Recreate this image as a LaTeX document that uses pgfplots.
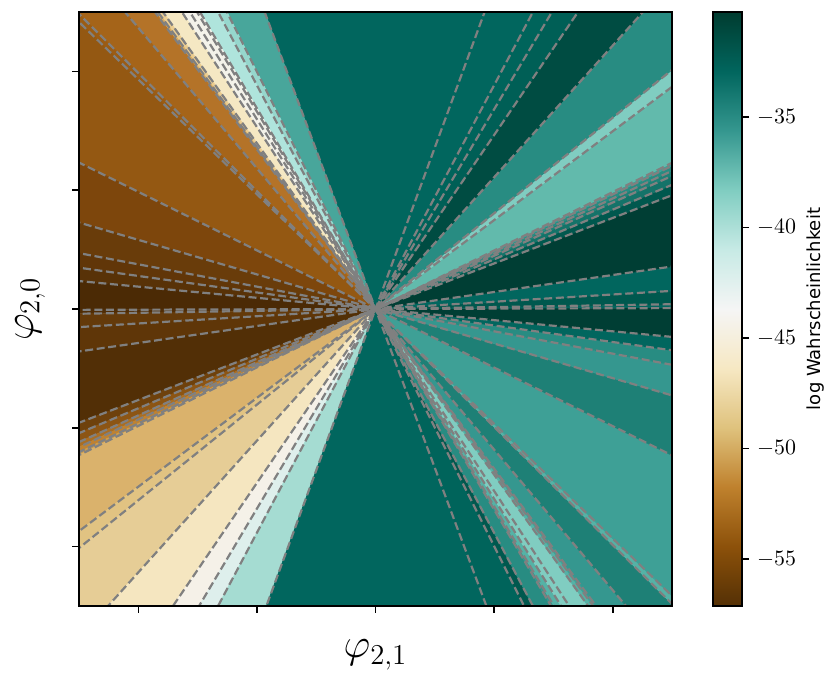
\documentclass[border=0pt]{standalone}
\usepackage{pgfplots}
\pgfplotsset{compat=1.18}
\usepackage{fontspec}
\newfontfamily\dejavu{DejaVu Sans}
% teal shades
\definecolor{T00}{RGB}{1,102,94}
\definecolor{T01}{RGB}{0,100,91}
\definecolor{T02}{RGB}{0,95,86}
\definecolor{T03}{RGB}{0,88,78}
\definecolor{T04}{RGB}{0,80,70}
\definecolor{T05}{RGB}{0,62,52}
\definecolor{T06}{RGB}{30,128,118}
\definecolor{T07}{RGB}{40,140,130}
\definecolor{T08}{RGB}{53,151,143}
\definecolor{T09}{RGB}{62,160,150}
\definecolor{T10}{RGB}{72,166,155}
\definecolor{T11}{RGB}{98,186,172}
\definecolor{T12}{RGB}{128,205,193}
\definecolor{T13}{RGB}{85,178,166}
\definecolor{T14}{RGB}{150,215,205}
\definecolor{T15}{RGB}{175,228,220}
\definecolor{T16}{RGB}{165,220,210}
\definecolor{T17}{RGB}{222,239,236}
\definecolor{T18}{RGB}{20,115,105}
\definecolor{T19}{RGB}{0,76,66}
\definecolor{W0}{RGB}{243,242,234}
\definecolor{W1}{RGB}{245,241,232}
% brown shades
\definecolor{B01}{RGB}{245,232,195}
\definecolor{B02}{RGB}{235,205,145}
\definecolor{B03}{RGB}{215,170,95}
\definecolor{B04}{RGB}{180,115,40}
\definecolor{B05}{RGB}{165,100,25}
\definecolor{B06}{RGB}{155,92,20}
\definecolor{B07}{RGB}{148,88,18}
\definecolor{B08}{RGB}{125,70,12}
\definecolor{B09}{RGB}{105,60,10}
\definecolor{B10}{RGB}{97,54,8}
\definecolor{B11}{RGB}{88,50,7}
\definecolor{B12}{RGB}{75,42,5}
\definecolor{B13}{RGB}{80,45,6}
\definecolor{B14}{RGB}{100,58,10}
\definecolor{B15}{RGB}{95,54,8}
\definecolor{B16}{RGB}{82,47,6}
\definecolor{B17}{RGB}{110,65,12}
\definecolor{B18}{RGB}{140,85,20}
\definecolor{B19}{RGB}{170,110,35}
\definecolor{B20}{RGB}{190,130,50}
\definecolor{B21}{RGB}{205,155,75}
\definecolor{B22}{RGB}{218,178,108}
\definecolor{B23}{RGB}{225,195,130}
\definecolor{B24}{RGB}{230,205,150}
\definecolor{B25}{RGB}{245,230,192}
\definecolor{lgray}{RGB}{128,128,128}
\pgfplotsset{
  sec/.style={fill=#1, draw=#1, line width=0.4pt},
  gl/.style={color=lgray, line width=1.1pt, dash pattern=on 4pt off 1.8pt},
}
\begin{document}
\begin{tikzpicture}
\begin{axis}[
  at={(0pt,0pt)}, anchor=south west,
  scale only axis, width=296.5pt, height=297pt,
  xmin=-2.5, xmax=2.5, ymin=-2.5, ymax=2.5,
  xtick={-2,-1,0,1,2}, ytick={-2,-1,0,1,2},
  xticklabels={}, yticklabels={},
  tick pos=left, tick align=outside, major tick length=3.5pt,
  every tick/.style={black, line width=0.8pt},
  axis line style={line width=0.8pt},
  axis on top,
  xlabel={$\varphi_{2,1}$}, ylabel={$\varphi_{2,0}$},
  xlabel style={at={(axis description cs:0.5,-0.0875)}, anchor=base, font=\fontsize{22}{26}\selectfont},
  ylabel style={at={(axis description cs:-0.0775,0.5)}, anchor=base, inner sep=0pt, font=\fontsize{22}{26}\selectfont},
  colormap={BrBG}{rgb255=(84,48,5) rgb255=(140,81,10) rgb255=(191,129,45) rgb255=(223,194,125) rgb255=(246,232,195) rgb255=(245,245,245) rgb255=(199,234,229) rgb255=(128,205,193) rgb255=(53,151,143) rgb255=(1,102,94) rgb255=(0,60,48)},
  colorbar, point meta min=-57.13, point meta max=-30.24,
  colorbar style={
    at={(parent axis.north east)}, anchor=north west, xshift=12pt,
    scale only axis, width=14.5pt, height=297pt,
    ytick={-55,-50,-45,-40,-35},
    ytick pos=right, yticklabel pos=right, tick align=outside,
    major tick length=3.5pt,
    every tick/.style={black, line width=0.8pt},
    axis line style={line width=0.8pt},
    yticklabel style={font=\fontsize{11}{13}\selectfont, xshift=0.5pt},
    ylabel={\dejavu log Wahrscheinlichkeit},
    ylabel style={at={(axis description cs:3.72,0.5)}, anchor=base, font=\fontsize{9}{11}\selectfont},
  },
]
% ---- upper half sectors ----
\addplot[sec=T00] coordinates {(0,0) (10,0.03) (10,0.16)};
\addplot[sec=T03] coordinates {(0,0) (10,0.16) (10,0.61)};
\addplot[sec=T00] coordinates {(0,0) (10,0.61) (10,1.43)};
\addplot[sec=T05] coordinates {(0,0) (10,1.43) (10,3.83)};
\addplot[sec=T03] coordinates {(0,0) (10,3.83) (10,4.18)};
\addplot[sec=T18] coordinates {(0,0) (10,4.18) (10,4.48)};
\addplot[sec=T06] coordinates {(0,0) (10,4.48) (10,4.65)};
\addplot[sec=T07] coordinates {(0,0) (10,4.65) (10,4.82)};
\addplot[sec=T09] coordinates {(0,0) (10,4.82) (10,4.92)};
\addplot[sec=T11] coordinates {(0,0) (10,4.92) (10,7.48)};
\addplot[sec=T12] coordinates {(0,0) (10,7.48) (10,8.05)};
\addplot[sec=T07] coordinates {(0,0) (10,8.05) (9.02,10)};
\addplot[sec=T19] coordinates {(0,0) (9.02,10) (6.83,10)};
\addplot[sec=T02] coordinates {(0,0) (6.83,10) (5.95,10)};
\addplot[sec=T01] coordinates {(0,0) (5.95,10) (5.31,10)};
\addplot[sec=T00] coordinates {(0,0) (5.31,10) (3.68,10)};
\addplot[sec=T00] coordinates {(0,0) (3.68,10) (-3.74,10)};
\addplot[sec=T10] coordinates {(0,0) (-3.74,10) (-5.01,10)};
\addplot[sec=T14] coordinates {(0,0) (-5.01,10) (-5.31,10)};
\addplot[sec=T15] coordinates {(0,0) (-5.31,10) (-5.92,10)};
\addplot[sec=W0] coordinates {(0,0) (-5.92,10) (-6.02,10)};
\addplot[sec=W0] coordinates {(0,0) (-6.02,10) (-6.26,10)};
\addplot[sec=W0] coordinates {(0,0) (-6.26,10) (-6.53,10)};
\addplot[sec=B01] coordinates {(0,0) (-6.53,10) (-7.17,10)};
\addplot[sec=B02] coordinates {(0,0) (-7.17,10) (-7.34,10)};
\addplot[sec=B03] coordinates {(0,0) (-7.34,10) (-7.44,10)};
\addplot[sec=B04] coordinates {(0,0) (-7.44,10) (-8.45,10)};
\addplot[sec=B05] coordinates {(0,0) (-8.45,10) (-10,9.93)};
\addplot[sec=B06] coordinates {(0,0) (-10,9.93) (-10,9.66)};
\addplot[sec=B07] coordinates {(0,0) (-10,9.66) (-10,4.93)};
\addplot[sec=B08] coordinates {(0,0) (-10,4.93) (-10,2.91)};
\addplot[sec=B09] coordinates {(0,0) (-10,2.91) (-10,1.88)};
\addplot[sec=B10] coordinates {(0,0) (-10,1.88) (-10,1.39)};
\addplot[sec=B11] coordinates {(0,0) (-10,1.39) (-10,0.94)};
\addplot[sec=B12] coordinates {(0,0) (-10,0.94) (-10,-0.03)};
% ---- lower half sectors ----
\addplot[sec=B13] coordinates {(0,0) (-10,-0.03) (-10,-0.16)};
\addplot[sec=B14] coordinates {(0,0) (-10,-0.16) (-10,-0.61)};
\addplot[sec=B15] coordinates {(0,0) (-10,-0.61) (-10,-1.43)};
\addplot[sec=B16] coordinates {(0,0) (-10,-1.43) (-10,-3.83)};
\addplot[sec=B17] coordinates {(0,0) (-10,-3.83) (-10,-4.18)};
\addplot[sec=B18] coordinates {(0,0) (-10,-4.18) (-10,-4.48)};
\addplot[sec=B19] coordinates {(0,0) (-10,-4.48) (-10,-4.65)};
\addplot[sec=B20] coordinates {(0,0) (-10,-4.65) (-10,-4.82)};
\addplot[sec=B21] coordinates {(0,0) (-10,-4.82) (-10,-4.92)};
\addplot[sec=B22] coordinates {(0,0) (-10,-4.92) (-10,-7.48)};
\addplot[sec=B23] coordinates {(0,0) (-10,-7.48) (-10,-8.05)};
\addplot[sec=B24] coordinates {(0,0) (-10,-8.05) (-9.02,-10)};
\addplot[sec=B25] coordinates {(0,0) (-9.02,-10) (-6.83,-10)};
\addplot[sec=W1] coordinates {(0,0) (-6.83,-10) (-5.95,-10)};
\addplot[sec=T17] coordinates {(0,0) (-5.95,-10) (-5.31,-10)};
\addplot[sec=T16] coordinates {(0,0) (-5.31,-10) (-3.68,-10)};
\addplot[sec=T00] coordinates {(0,0) (-3.68,-10) (3.74,-10)};
\addplot[sec=T01] coordinates {(0,0) (3.74,-10) (5.01,-10)};
\addplot[sec=T03] coordinates {(0,0) (5.01,-10) (5.31,-10)};
\addplot[sec=T07] coordinates {(0,0) (5.31,-10) (5.92,-10)};
\addplot[sec=T08] coordinates {(0,0) (5.92,-10) (6.02,-10)};
\addplot[sec=T13] coordinates {(0,0) (6.02,-10) (6.26,-10)};
\addplot[sec=T12] coordinates {(0,0) (6.26,-10) (6.53,-10)};
\addplot[sec=T12] coordinates {(0,0) (6.53,-10) (7.17,-10)};
\addplot[sec=T13] coordinates {(0,0) (7.17,-10) (7.34,-10)};
\addplot[sec=T09] coordinates {(0,0) (7.34,-10) (7.44,-10)};
\addplot[sec=T08] coordinates {(0,0) (7.44,-10) (8.45,-10)};
\addplot[sec=T06] coordinates {(0,0) (8.45,-10) (10,-9.93)};
\addplot[sec=T13] coordinates {(0,0) (10,-9.93) (10,-9.66)};
\addplot[sec=T09] coordinates {(0,0) (10,-9.66) (10,-4.93)};
\addplot[sec=T06] coordinates {(0,0) (10,-4.93) (10,-2.91)};
\addplot[sec=T08] coordinates {(0,0) (10,-2.91) (10,-1.88)};
\addplot[sec=T07] coordinates {(0,0) (10,-1.88) (10,-1.39)};
\addplot[sec=T00] coordinates {(0,0) (10,-1.39) (10,-0.94)};
\addplot[sec=T05] coordinates {(0,0) (10,-0.94) (10,0.03)};
% ---- dashed lines through the origin ----
\addplot[gl] coordinates {(-10,-0.03) (10,0.03)};
\addplot[gl] coordinates {(-10,-0.16) (10,0.16)};
\addplot[gl] coordinates {(-10,-0.61) (10,0.61)};
\addplot[gl] coordinates {(-10,-1.43) (10,1.43)};
\addplot[gl] coordinates {(-10,-3.83) (10,3.83)};
\addplot[gl] coordinates {(-10,-4.18) (10,4.18)};
\addplot[gl] coordinates {(-10,-4.48) (10,4.48)};
\addplot[gl] coordinates {(-10,-4.65) (10,4.65)};
\addplot[gl] coordinates {(-10,-4.82) (10,4.82)};
\addplot[gl] coordinates {(-10,-4.92) (10,4.92)};
\addplot[gl] coordinates {(-10,-7.48) (10,7.48)};
\addplot[gl] coordinates {(-10,-8.05) (10,8.05)};
\addplot[gl] coordinates {(-9.02,-10) (9.02,10)};
\addplot[gl] coordinates {(-6.83,-10) (6.83,10)};
\addplot[gl] coordinates {(-5.95,-10) (5.95,10)};
\addplot[gl] coordinates {(-5.31,-10) (5.31,10)};
\addplot[gl] coordinates {(-3.68,-10) (3.68,10)};
\addplot[gl] coordinates {(3.74,-10) (-3.74,10)};
\addplot[gl] coordinates {(5.01,-10) (-5.01,10)};
\addplot[gl] coordinates {(5.31,-10) (-5.31,10)};
\addplot[gl] coordinates {(5.92,-10) (-5.92,10)};
\addplot[gl] coordinates {(6.02,-10) (-6.02,10)};
\addplot[gl] coordinates {(6.26,-10) (-6.26,10)};
\addplot[gl] coordinates {(6.53,-10) (-6.53,10)};
\addplot[gl] coordinates {(7.17,-10) (-7.17,10)};
\addplot[gl] coordinates {(7.34,-10) (-7.34,10)};
\addplot[gl] coordinates {(7.44,-10) (-7.44,10)};
\addplot[gl] coordinates {(8.45,-10) (-8.45,10)};
\addplot[gl] coordinates {(10,-9.93) (-10,9.93)};
\addplot[gl] coordinates {(10,-9.66) (-10,9.66)};
\addplot[gl] coordinates {(10,-4.93) (-10,4.93)};
\addplot[gl] coordinates {(10,-2.91) (-10,2.91)};
\addplot[gl] coordinates {(10,-1.88) (-10,1.88)};
\addplot[gl] coordinates {(10,-1.39) (-10,1.39)};
\addplot[gl] coordinates {(10,-0.94) (-10,0.94)};
\end{axis}
\pgfresetboundingbox
\path[use as bounding box] (-39.5pt,-33.5pt) rectangle (374.5pt,303pt);
\end{tikzpicture}
\end{document}
